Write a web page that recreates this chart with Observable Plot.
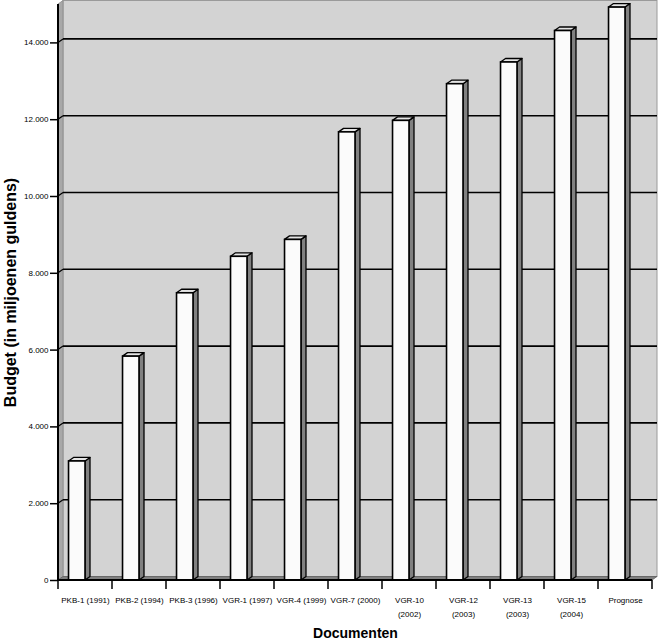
<!DOCTYPE html>
<html>
<head>
<meta charset="utf-8">
<script src="https://cdn.jsdelivr.net/npm/d3@7"></script>
<script src="https://cdn.jsdelivr.net/npm/@observablehq/plot@0.6"></script>
<style>
  html, body { margin: 0; padding: 0; background: #ffffff; }
  #chart { width: 658px; height: 643px; }
  svg { font-family: "Liberation Sans", Arial, sans-serif; }
</style>
</head>
<body>
<div id="chart"></div>
<script>
const categories = ["PKB-1 (1991)", "PKB-2 (1994)", "PKB-3 (1996)", "VGR-1 (1997)", "VGR-4 (1999)", "VGR-7 (2000)", "VGR-10\n(2002)", "VGR-12\n(2003)", "VGR-13\n(2003)", "VGR-15\n(2004)", "Prognose"];
const budgets = [3100, 5830, 7480, 8430, 8870, 11670, 11970, 12925, 13490, 14310, 14920];
const yTicks = [0, 2000, 4000, 6000, 8000, 10000, 12000, 14000];
const yDomain = [0, 15000];
const yTitle = "Budget (in miljoenen guldens)";
const xTitle = "Documenten";

const DX = 5, DY = -3.5; // 3D depth offset

const data = categories.map((c, i) => ({category: c, value: budgets[i]}));

function scene(index, scales, values, dim) {
  const X = scales.x, Y = scales.y;
  const bw = X.bandwidth ? X.bandwidth() : (dim.width - dim.marginLeft - dim.marginRight) / categories.length;
  const xl = dim.marginLeft, xr = dim.width - dim.marginRight;
  const y0 = Y(yDomain[0]), yTop = Y(yDomain[1]);
  const g = d3.create("svg:g");
  const poly = pts => pts.map(p => p.join(",")).join(" ");
  // back wall
  g.append("rect").attr("x", xl + DX).attr("y", yTop + DY).attr("width", xr - xl).attr("height", y0 - yTop)
    .attr("fill", "#d3d3d3").attr("stroke", "#9a9a9a").attr("stroke-width", 1);
  // left wall
  g.append("polygon").attr("points", poly([[xl, yTop], [xl + DX, yTop + DY], [xl + DX, y0 + DY], [xl, y0]]))
    .attr("fill", "#a8a8a8").attr("stroke", "#8a8a8a").attr("stroke-width", 0.8);
  // floor
  g.append("polygon").attr("points", poly([[xl, y0], [xl + DX, y0 + DY], [xr + DX, y0 + DY], [xr, y0]]))
    .attr("fill", "#808080").attr("stroke", "#606060").attr("stroke-width", 0.8);
  // gridlines
  for (const t of yTicks) {
    if (t === 0) continue;
    const y = Y(t);
    g.append("line").attr("x1", xl + DX).attr("x2", xr + DX).attr("y1", y + DY).attr("y2", y + DY)
      .attr("stroke", "#000").attr("stroke-width", 1.6);
    g.append("line").attr("x1", xl).attr("x2", xl + DX).attr("y1", y).attr("y2", y + DY)
      .attr("stroke", "#000").attr("stroke-width", 1.2);
  }
  // bars
  for (const d of data) {
    const bx = X(d.category);
    const fx1 = bx + bw * 0.195, fx2 = bx + bw * 0.5;
    const yv = Y(d.value);
    g.append("polygon").attr("points", poly([[fx2, yv], [fx2 + DX, yv + DY], [fx2 + DX, y0 + DY], [fx2, y0]]))
      .attr("fill", "#808080").attr("stroke", "#000").attr("stroke-width", 1.3).attr("stroke-linejoin", "round");
    g.append("polygon").attr("points", poly([[fx1, yv], [fx1 + DX, yv + DY], [fx2 + DX, yv + DY], [fx2, yv]]))
      .attr("fill", "#e4e4e4").attr("stroke", "#000").attr("stroke-width", 1.3).attr("stroke-linejoin", "round");
    g.append("rect").attr("x", fx1).attr("y", yv).attr("width", fx2 - fx1).attr("height", y0 - yv)
      .attr("fill", "#fbfbfb").attr("stroke", "#000").attr("stroke-width", 1.6);
  }
  // axis lines
  g.append("line").attr("x1", xl).attr("x2", xl).attr("y1", yTop).attr("y2", y0 + 1)
    .attr("stroke", "#000").attr("stroke-width", 2);
  g.append("line").attr("x1", xl).attr("x2", xr).attr("y1", y0).attr("y2", y0)
    .attr("stroke", "#000").attr("stroke-width", 2);
  // x ticks at band boundaries
  const bounds = categories.map(c => X(c)).concat([X(categories[categories.length - 1]) + bw]);
  for (const bxv of bounds) {
    g.append("line").attr("x1", bxv).attr("x2", bxv).attr("y1", y0).attr("y2", y0 + 9)
      .attr("stroke", "#000").attr("stroke-width", 1.5);
  }
  return g.node();
}

const fmt = d => d3.format(",")(d).replace(/,/g, ".");

const chart = Plot.plot({
  width: 658,
  height: 643,
  marginLeft: 58,
  marginRight: 6,
  marginTop: 4,
  marginBottom: 63,
  style: {fontFamily: "'Liberation Sans', Arial, sans-serif", background: "#ffffff", color: "#000"},
  x: {type: "band", domain: categories, padding: 0, axis: null},
  y: {domain: yDomain, axis: null},
  marks: [
    scene,
    Plot.axisY({ticks: yTicks, tickSize: 8, tickPadding: 2, tickFormat: fmt, fontSize: 8, label: null, strokeWidth: 1.5, stroke: "#000", fill: "#000"}),
    Plot.text(categories, {x: d => d, frameAnchor: "bottom", dy: 13, lineAnchor: "top", lineHeight: 1.7, fontSize: 8, fill: "#000"}),
    Plot.text([xTitle], {frameAnchor: "bottom", dy: 57, fontSize: 14, fontWeight: "bold", fill: "#000"}),
    Plot.text([yTitle], {frameAnchor: "left", dx: -48, rotate: -90, textAnchor: "middle", fontSize: 16, fontWeight: "bold", fill: "#000"})
  ]
});
document.getElementById("chart").appendChild(chart);
</script>
</body>
</html>
